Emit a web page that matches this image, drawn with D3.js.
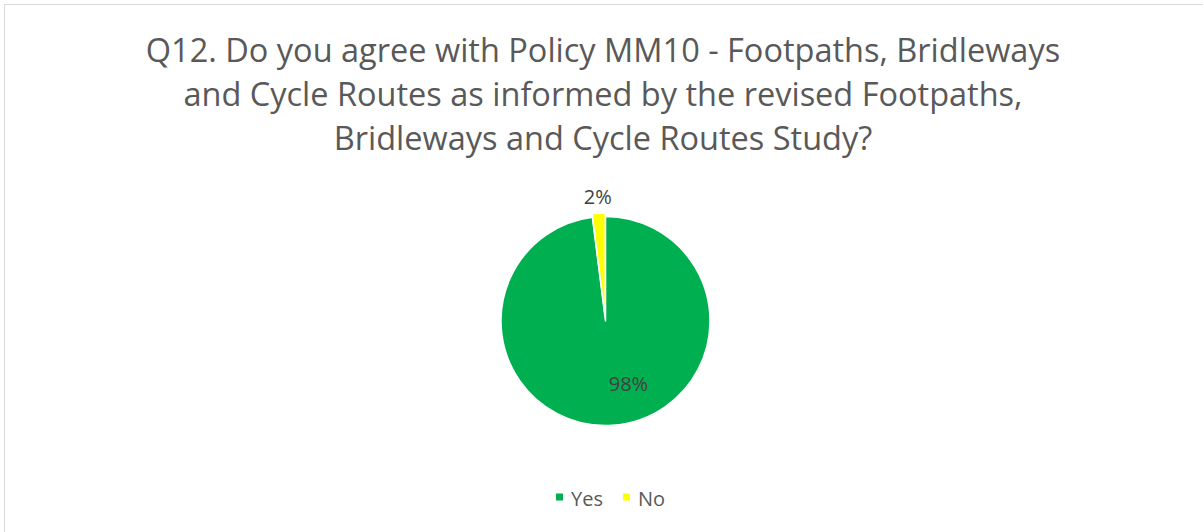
<!DOCTYPE html>
<html>
<head>
<meta charset="utf-8">
<script src="https://cdn.jsdelivr.net/npm/d3@7"></script>
<style>
  html, body { margin: 0; padding: 0; background: #fff; }
  svg { display: block; }
  text { font-family: "Open Sans", "Liberation Sans", sans-serif; }
</style>
</head>
<body>
<svg id="chart" width="1203" height="532"></svg>
<script>
// Survey answers for Q12
const categories = ["Yes", "No"];
const shares = [98, 2];
const sliceColors = ["#00B050", "#FFFF00"];
const titleLines = [
  "Q12. Do you agree with Policy MM10 - Footpaths, Bridleways",
  "and Cycle Routes as informed by the revised Footpaths,",
  "Bridleways and Cycle Routes Study?"
];

const W = 1203, H = 532;
const svg = d3.select("#chart");

// chart frame (only top and left edges fall inside the view)
svg.append("rect")
  .attr("x", 4.5).attr("y", 4.5)
  .attr("width", W + 10).attr("height", H + 10)
  .attr("fill", "#fff")
  .attr("stroke", "#D9D9D9").attr("stroke-width", 1);

// title
const title = svg.append("text")
  .attr("text-anchor", "middle")
  .attr("fill", "#595959")
  .style("font-size", "32.5px");
titleLines.forEach((line, i) => {
  title.append("tspan")
    .attr("x", 603)
    .attr("y", 62 + i * 44)
    .text(line);
});

// pie
const cx = 605.5, cy = 321, radius = 104.5;
const color = d3.scaleOrdinal().domain(categories).range(sliceColors);
const pie = d3.pie().sort(null).value(d => d.value);
const data = categories.map((c, i) => ({ name: c, value: shares[i] }));
const arcs = pie(data);
const arc = d3.arc().innerRadius(0).outerRadius(radius);
const explode = { "No": 3.5 };

const g = svg.append("g").attr("transform", `translate(${cx},${cy})`);
g.selectAll("path.slice")
  .data(arcs)
  .join("path")
  .attr("class", "slice")
  .attr("transform", d => {
    const off = explode[d.data.name] || 0;
    const mid = (d.startAngle + d.endAngle) / 2;
    return `translate(${Math.sin(mid) * off},${-Math.cos(mid) * off})`;
  })
  .attr("d", arc)
  .attr("fill", d => color(d.data.name))
  .attr("stroke", "#fff")
  .attr("stroke-width", 1.5)
  .attr("stroke-linejoin", "round");

// data labels: large slice labelled inside, thin slice outside the rim
const inLabel = d3.arc().innerRadius(radius * 0.6).outerRadius(radius * 0.6);
const outLabel = d3.arc().innerRadius(radius * 1.19).outerRadius(radius * 1.19);
g.selectAll("text.lbl")
  .data(arcs)
  .join("text")
  .attr("class", "lbl")
  .attr("text-anchor", "middle")
  .attr("dominant-baseline", "central")
  .attr("fill", "#404040")
  .style("font-size", "20px")
  .attr("transform", d => {
    if (d.data.name === "No") {
      const p = outLabel.centroid(d);
      return `translate(${p[0]},${p[1]})`;
    }
    const p = inLabel.centroid(d);
    return `translate(${p[0] + 19},${p[1]})`;
  })
  .text(d => d.data.value + "%");

// legend
const legend = svg.append("g").attr("transform", "translate(556,497)");
const items = legend.selectAll("g.item")
  .data(categories)
  .join("g")
  .attr("class", "item")
  .attr("transform", (d, i) => `translate(${i * 67},0)`);
items.append("rect")
  .attr("x", 0).attr("y", -3.5)
  .attr("width", 7).attr("height", 7)
  .attr("fill", d => color(d));
items.append("text")
  .attr("x", 15).attr("y", 9)
  .attr("fill", "#595959")
  .style("font-size", "20px")
  .text(d => d);
</script>
</body>
</html>
